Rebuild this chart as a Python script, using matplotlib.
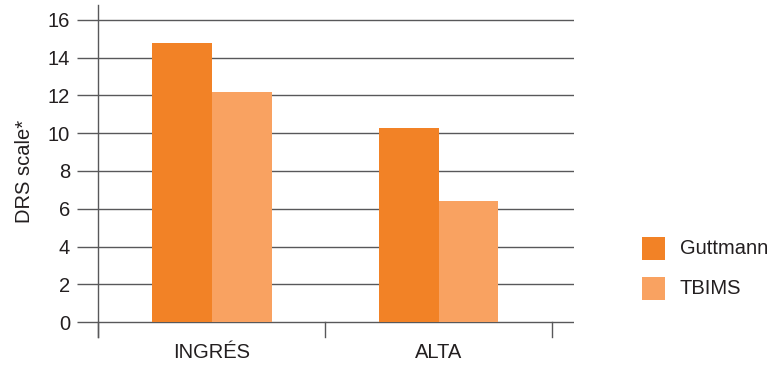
import matplotlib
matplotlib.use("Agg")
import matplotlib.pyplot as plt
from matplotlib.patches import Rectangle
import numpy as np

categories = ["INGRÉS", "ALTA"]
series_names = ["Guttmann", "TBIMS"]
guttmann = [14.8, 10.3]
tbims = [12.2, 6.4]
yticks = [0, 2, 4, 6, 8, 10, 12, 14, 16]
ylabel = "DRS scale*"

colors = ["#F28226", "#F9A261"]
grid_c = "#58585A"
text_c = "#231F20"
fs = 14.5

plt.rcParams['font.family'] = ['Liberation Sans', 'DejaVu Sans']

W, H = 776, 366
fig = plt.figure(figsize=(W / 100, H / 100), dpi=100)
ax = fig.add_axes([98 / W, (H - 337) / H, (574 - 98) / W, (337 - 5) / H])

x = np.arange(len(categories))
bw = 60 / 227
xmax = 1.5 + (574 - 552) / 227
ylo = -15 / 18.875
yhi = 16 + 15 / 18.875
ax.set_xlim(-0.5, xmax)
ax.set_ylim(ylo, yhi)

for s in ax.spines.values():
    s.set_visible(False)

# gridlines
for yv in yticks:
    ax.plot([-0.5, xmax], [yv, yv], color=grid_c, lw=1.0, zorder=1, solid_capstyle='butt')
# y axis line
ax.plot([-0.5, -0.5], [ylo, yhi], color=grid_c, lw=1.0, zorder=3, clip_on=False)
# category ticks
for xv in [-0.5, 0.5, 1.5]:
    ax.plot([xv, xv], [ylo, 0], color=grid_c, lw=1.0, zorder=3, clip_on=False)

ax.bar(x - bw / 2, guttmann, bw, color=colors[0], zorder=2, linewidth=0)
ax.bar(x + bw / 2, tbims, bw, color=colors[1], zorder=2, linewidth=0)

ax.set_yticks(yticks)
ax.set_yticklabels([str(v) for v in yticks], fontsize=fs, color=text_c)
ax.tick_params(axis='y', length=15, width=1.0, color=grid_c, pad=5)
ax.set_xticks(x)
ax.set_xticklabels(categories, fontsize=fs, color=text_c)
ax.tick_params(axis='x', length=0, pad=4)
ax.set_ylabel(ylabel, fontsize=fs, color=text_c, labelpad=10)

# legend
for i, name in enumerate(series_names):
    y0 = 237 + i * 40
    fig.patches.append(Rectangle((642 / W, (H - y0 - 23) / H), 23 / W, 23 / H,
                                 transform=fig.transFigure, color=colors[i], lw=0))
    fig.text(680 / W, (H - y0 - 11.5) / H, name, fontsize=fs, color=text_c,
             va='center', ha='left')

fig.savefig("out.png", dpi=100)
